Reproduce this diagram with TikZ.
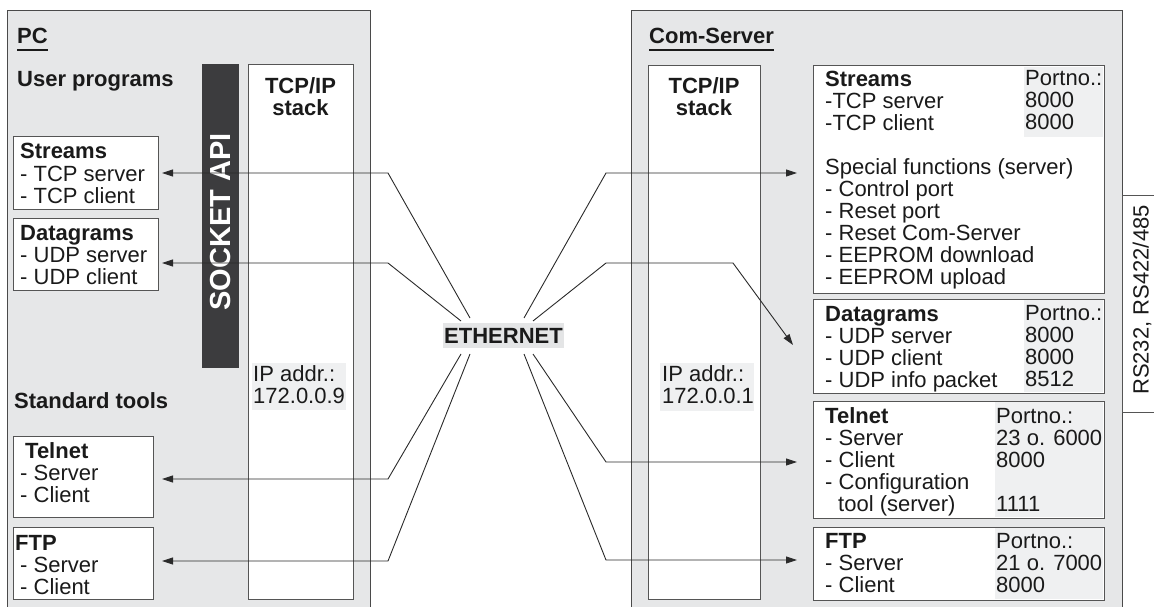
\documentclass[tikz,border=0pt]{standalone}
\usepackage{fontspec}
\setmainfont{Liberation Sans}
\usetikzlibrary{arrows.meta}
\definecolor{panelfill}{HTML}{E6E7E8}
\definecolor{panelline}{HTML}{4A4A4A}
\definecolor{boxline}{HTML}{555555}
\definecolor{socketfill}{HTML}{3C3C3E}
\definecolor{graybg}{HTML}{EFF0F1}
\definecolor{ethfill}{HTML}{E4E5E6}
\definecolor{linecol}{HTML}{2A2A2A}
\definecolor{txtcol}{HTML}{1A1A1A}
\newcommand\firstln{\rule{0pt}{15.8pt}}
\begin{document}
\begin{tikzpicture}[x=1pt,y=-1pt,
  panel/.style={draw=panelline, fill=panelfill, line width=1.1pt, inner sep=0, anchor=north west},
  box/.style={draw=boxline, fill=white, line width=1pt, inner sep=0, anchor=north west},
  bgbox/.style={fill=graybg, inner sep=0, anchor=north west},
  txt/.style={anchor=north west, align=left, inner sep=0, text=txtcol, font=\fontsize{22}{22}\selectfont},
  bold/.style={anchor=north west, align=left, inner sep=0, text=txtcol, font=\fontsize{22}{22}\selectfont\bfseries},
  conn/.style={draw=linecol, line width=0.9pt},
  arr/.style={conn, -{Triangle[length=11pt,width=7pt]}}]
\useasboundingbox (0,0) rectangle (1154,607);
\clip (0,0) rectangle (1154,607);

% panels
\node[panel, minimum width=363, minimum height=620] (pc) at (7,10) {};
\node[panel, minimum width=491, minimum height=620] (cs) at (631,10) {};

% RS232 box
\coordinate (rsA) at (1170,195);
\coordinate (rsB) at (1122,195);
\coordinate (rsC) at (1122,412);
\coordinate (rsD) at (1170,412);
\draw[draw=boxline, fill=white, line width=1pt] (rsA) -- (rsB) -- (rsC) -- (rsD);
\node[rotate=90, inner sep=0, text=txtcol, font=\fontsize{22}{22}\selectfont] (rsT) at (1142,300) {RS232, RS422/485};

% left panel contents
\node[bold] (pcT) at (17,28) {\firstln PC};
\coordinate (ulL) at (0,50);
\draw[line width=2pt, txtcol] (pcT.west |- ulL) -- (pcT.east |- ulL);
\node[bold] (userT) at (17,71) {\firstln User programs};
\node[bold] (stdT) at (14,392) {\firstln Standard tools};

\node[fill=socketfill, inner sep=0, anchor=north west, minimum width=37, minimum height=304] (sock) at (202,64) {};
\node[rotate=90, text=white, inner sep=0, font=\fontsize{29}{30}\selectfont\bfseries] (sockT) at (221,222) {SOCKET API};

\node[box, minimum width=105, minimum height=535] (ltcp) at (248,64) {};
\node[bold, anchor=north, align=center] (ltcpT) at (300.5,77) {\firstln TCP/IP\\stack};
\node[bgbox, minimum width=94, minimum height=47] (lip) at (252,363) {};
\node[txt] (lipT) at (253,365) {\firstln IP addr.:\\172.0.0.9};

\node[box, minimum width=145, minimum height=73] (lstreams) at (13,136) {};
\node[txt] (lstreamsT) at (20,143) {\firstln\textbf{Streams}\\- TCP server\\- TCP client};
\node[box, minimum width=145, minimum height=72] (ldgram) at (13,218) {};
\node[txt] (ldgramT) at (20,224) {\firstln\textbf{Datagrams}\\- UDP server\\- UDP client};
\node[box, minimum width=140, minimum height=81] (ltelnet) at (13,436) {};
\node[txt] (ltelnetT) at (20,442) {\firstln\hspace*{5pt}\textbf{Telnet}\\- Server\\- Client};
\node[box, minimum width=140, minimum height=72] (lftp) at (13,527) {};
\node[txt] (lftpT) at (15,534) {\firstln\textbf{FTP}\\\hspace*{5pt}- Server\\\hspace*{5pt}- Client};

% right panel contents
\node[bold] (csT) at (649,28) {\firstln Com-Server};
\draw[line width=2pt, txtcol] (csT.west |- ulL) -- (csT.east |- ulL);

\node[box, minimum width=112, minimum height=534] (rtcp) at (648,65) {};
\node[bold, anchor=north, align=center] (rtcpT) at (704,77) {\firstln TCP/IP\\stack};
\node[bgbox, minimum width=94, minimum height=48] (rip) at (660,363) {};
\node[txt] (ripT) at (662,365) {\firstln IP addr.:\\172.0.0.1};

\node[box, minimum width=291, minimum height=228] (rstreams) at (813,65) {};
\node[bgbox, minimum width=79, minimum height=70] (rstreamsP) at (1024,67) {};
\node[txt] (rstreamsT) at (825,70) {\firstln\textbf{Streams}\\-TCP server\\-TCP client\\[22pt]Special functions (server)\\- Control port\\- Reset port\\- Reset Com-Server\\- EEPROM download\\- EEPROM upload};
\node[txt] (rstreamsN) at (1025,70) {\firstln Portno.:\\8000\\8000};

\node[box, minimum width=291, minimum height=94] (rdgram) at (813,299) {};
\node[bgbox, minimum width=79, minimum height=92] (rdgramP) at (1024,300) {};
\node[txt] (rdgramT) at (825,305) {\firstln\textbf{Datagrams}\\- UDP server\\- UDP client\\- UDP info packet};
\node[txt] (rdgramN) at (1025,304) {\firstln Portno.:\\8000\\8000\\8512};

\node[box, minimum width=291, minimum height=117] (rtelnet) at (813,401) {};
\node[bgbox, minimum width=108, minimum height=115] (rtelnetP) at (995,402) {};
\node[txt] (rtelnetT) at (825,407) {\firstln\textbf{Telnet}\\- Server\\- Client\\- Configuration\\\hspace*{13pt}tool (server)};
\node[txt] (rtelnetN) at (996,407) {\firstln Portno.:\\23 o. 6000\\8000\\[22pt]1111};

\node[box, minimum width=291, minimum height=73] (rftp) at (813,527) {};
\node[bgbox, minimum width=108, minimum height=71] (rftpP) at (995,528) {};
\node[txt] (rftpT) at (825,532) {\firstln\textbf{FTP}\\- Server\\- Client};
\node[txt] (rftpN) at (996,532) {\firstln Portno.:\\21 o. 7000\\8000};

% ethernet
\node[fill=ethfill, inner sep=0, minimum width=121, minimum height=25, text=txtcol, font=\fontsize{22}{22}\selectfont\bfseries] (eth) at (503.5,335.5) {ETHERNET};

% connector coordinates
\coordinate (eL1) at (470,318);
\coordinate (eL2) at (461,321);
\coordinate (eL3) at (461,354);
\coordinate (eL4) at (470,354);
\coordinate (eR1) at (524,318);
\coordinate (eR2) at (533,321);
\coordinate (eR3) at (533,354);
\coordinate (eR4) at (524,354);
\coordinate (bL1) at (388,173);
\coordinate (bL2) at (388,263);
\coordinate (bL3) at (388,479);
\coordinate (bL4) at (388,561);
\coordinate (tL1) at (162,173);
\coordinate (tL2) at (162,263);
\coordinate (tL3) at (162,479);
\coordinate (tL4) at (162,561);
\coordinate (bR1) at (606,173);
\coordinate (bR2) at (606,263);
\coordinate (bR2b) at (733,263);
\coordinate (bR3) at (606,462);
\coordinate (bR4) at (606,560);
\coordinate (tR1) at (797,173);
\coordinate (tR2) at (793,345);
\coordinate (tR3) at (797,462);
\coordinate (tR4) at (797,560);

\draw[arr] (eL1) -- (bL1) -- (tL1);
\draw[arr] (eL2) -- (bL2) -- (tL2);
\draw[arr] (eL3) -- (bL3) -- (tL3);
\draw[arr] (eL4) -- (bL4) -- (tL4);
\draw[arr] (eR1) -- (bR1) -- (tR1);
\draw[arr] (eR2) -- (bR2) -- (bR2b) -- (tR2);
\draw[arr] (eR3) -- (bR3) -- (tR3);
\draw[arr] (eR4) -- (bR4) -- (tR4);
\end{tikzpicture}
\end{document}
